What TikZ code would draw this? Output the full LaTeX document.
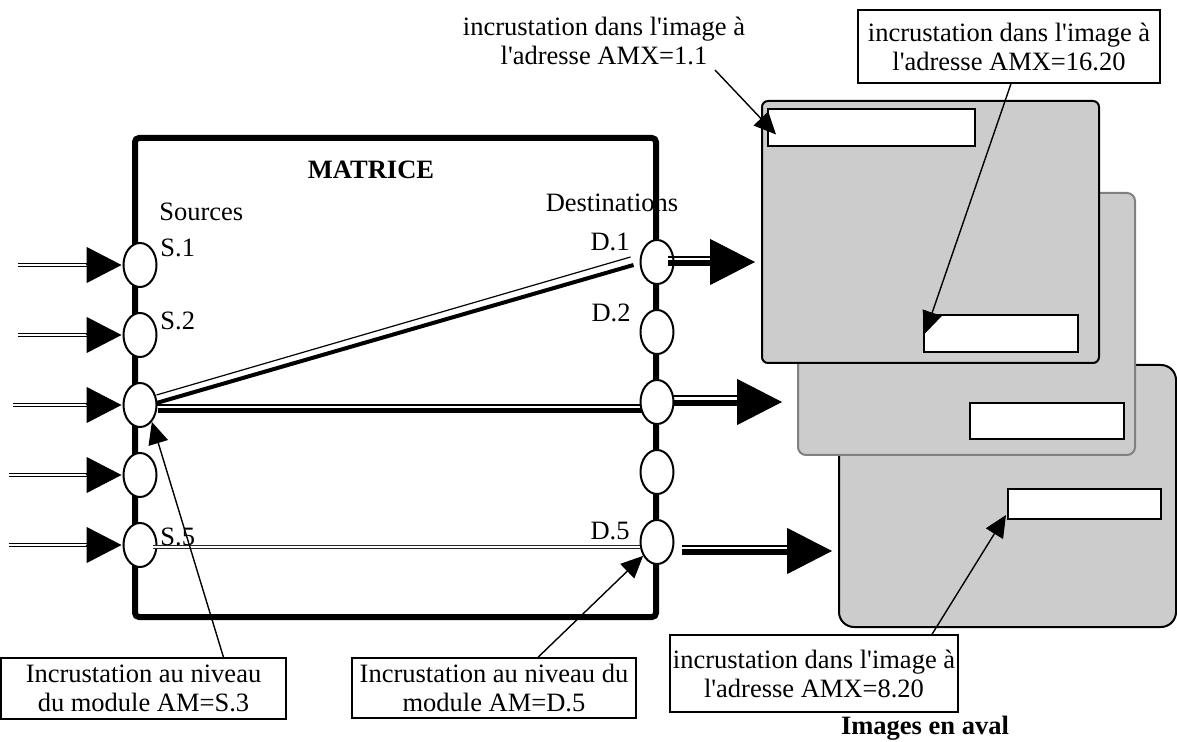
\documentclass[tikz,border=0pt]{standalone}
\usepackage{fontspec}
\setmainfont{Liberation Serif}[Ligatures=TeXOff]
\usetikzlibrary{arrows.meta,shapes.geometric,calc}

\begin{document}
\begin{tikzpicture}[x=0.5pt,y=-0.5pt,
  every node/.style={font=\fontsize{13.25}{14.5}\selectfont, inner sep=0pt},
  port/.style={ellipse, draw, fill=white, line width=1pt, minimum width=16.5pt, minimum height=22pt},
  screen/.style={draw, fill=black!20, line width=1pt, minimum width=168.5pt, minimum height=131pt},
  slot/.style={draw, fill=white, line width=1pt},
  callbox/.style={draw, line width=0.7pt, align=center},
  feed/.style={double, line width=0.5pt, double distance=1.2pt},
  inhead/.style={-{Triangle[length=17.5pt,width=18pt]}, line width=0.5pt},
  outhead/.style={-{Triangle[length=22.5pt,width=23pt]}, line width=0.5pt},
  outthick/.style={line width=2.8pt},
  thinline/.style={line width=0.6pt},
  callout/.style={line width=0.7pt, -{Triangle[length=11pt,width=10pt]}},
]
\fill[white] (0,0) rectangle (1177,742);
\useasboundingbox (0,0) rectangle (1177,742);

% stacked output pictures, back to front
\node[screen, rounded corners=7.5pt] (scr3) at (1007.5,496) {};
\node[screen, draw=black!50, rounded corners=4pt] (scr2) at (966.5,324) {};
\node[screen, rounded corners=3pt] (scr1) at (930.5,232) {};
\node[slot, minimum width=103.5pt, minimum height=18.5pt] (w11) at (871.5,127.5) {};
\node[slot, minimum width=77pt, minimum height=18.5pt] (w1620) at (1001,333.5) {};
\node[slot, minimum width=77pt, minimum height=18pt] (w2) at (1047,421) {};
\node[slot, minimum width=76.5pt, minimum height=15pt] (w820) at (1084.5,504) {};

% switching matrix
\node[font=\fontsize{13.25}{14.5}\selectfont\bfseries] (title) at (371,170) {MATRICE};
\node[anchor=west] (srcs) at (159,212) {Sources};
\node (dests) at (612,203) {Destinations};
\node[anchor=west] (ls1) at (160,248) {S.1};
\node[anchor=west] (ls2) at (160,321) {S.2};
\node[anchor=west] (ls5) at (160,537) {S.5};
\node[anchor=east] (ld1) at (630,242) {D.1};
\node[anchor=east] (ld2) at (631,313) {D.2};
\node[anchor=east] (ld5) at (630,531) {D.5};
\node[draw, line width=3pt, rounded corners=2pt, minimum width=260.5pt, minimum height=239.5pt] (mtx) at (395.5,377.5) {};

% source and destination ports
\foreach \i/\y in {1/265,2/335,3/405,4/475,5/545}
  \node[port] (s\i) at (140,\y) {};
\foreach \i/\y in {1/262,2/332,3/402,4/472,5/542}
  \node[port] (d\i) at (657,\y) {};

% incoming feeds
\foreach \i/\x in {1/18,2/18,3/13,4/9,5/9} {
  \coordinate (in\i) at (\x,0 |- s\i.center);
  \draw[feed] (in\i) -- ($(s\i.west)+(-30,0)$);
  \draw[inhead] ($(s\i.west)+(-37,0)$) -- ($(s\i.west)+(-1,0)$);
}

% routes through the matrix
\draw[thinline] ($(s3.east)+(-1,-10)$) -- ($(d1.west)+(-9,-5)$);
\draw[line width=2pt] ($(s3.east)+(-1,-2)$) -- ($(d1.west)+(-6,3)$);
\draw[thinline] ($(s3.east)+(-1,0)$) -- (d3.west |- s3.east);
\draw[line width=2.5pt] ($(s3.east)+(0,6)$) -- ($(d3.west |- s3.east)+(2,6)$);
\draw[feed, draw=black!85] ($(s5.east)+(-5,2)$) -- ($(d5.west |- s5.east)+(0,2)$);

% outgoing feeds
\coordinate (o1) at (755,262);
\coordinate (o3) at (782,402);
\coordinate (o5) at (832,551);
\draw[outthick] ($(d1.center)+(11,1)$) -- ($(o1)+(-44,1)$);
\draw[thinline] ($(d1.center)+(11,-5)$) -- ($(o1)+(-44,-5)$);
\draw[outhead] ($(o1)+(-46,0)$) -- (o1);
\draw[outthick] ($(d3.center)+(16,1)$) -- ($(o3)+(-44,1)$);
\draw[thinline] ($(d3.center)+(16,-6)$) -- ($(o3)+(-44,-6)$);
\draw[outhead] ($(o3)+(-46,0)$) -- (o3);
\draw[outthick] ($(d5.center)+(25,10)$) -- ($(o5)+(-44,1)$);
\draw[thinline] ($(d5.center)+(25,4)$) -- ($(o5)+(-44,-5)$);
\draw[outhead] ($(o5)+(-46,0)$) -- (o5);

% annotations
\node[align=center] (lbl11) at (604,41) {incrustation dans l'image à\\l'adresse AMX=1.1};
\coordinate (c11) at (715,70);
\draw[callout] (c11) -- ($(w11.west)+(9,7)$);

\node[callbox, minimum width=151pt, minimum height=36.5pt] (lbl1620) at (1009,46.5) {incrustation dans l'image à\\l'adresse AMX=16.20};
\draw[callout] ($(lbl1620.south)+(2,0)$) -- ($(w1620.west)+(2,0)$);

\node[callbox, minimum width=142.5pt, minimum height=30.5pt] (lblS3) at (143.5,688.5) {Incrustation au niveau\\du module AM=S.3};
\draw[callout] ($(lblS3.north)+(80,0)$) -- (s3.-55);

\node[callbox, minimum width=142pt, minimum height=30pt] (lblD5) at (494,688) {Incrustation au niveau du\\module AM=D.5};
\draw[callout] ($(lblD5.north)+(44,0)$) -- (d5.-135);

\node[callbox, minimum width=144pt, minimum height=38.5pt] (lbl820) at (814,673.5) {incrustation dans l'image à\\l'adresse AMX=8.20};
\draw[callout] ($(lbl820.north)+(118,0)$) -- ($(w820.south west)+(-1,-5)$);

\node[font=\fontsize{13.25}{14.5}\selectfont\bfseries] (aval) at (925,728) {Images en aval};
\end{tikzpicture}
\end{document}
